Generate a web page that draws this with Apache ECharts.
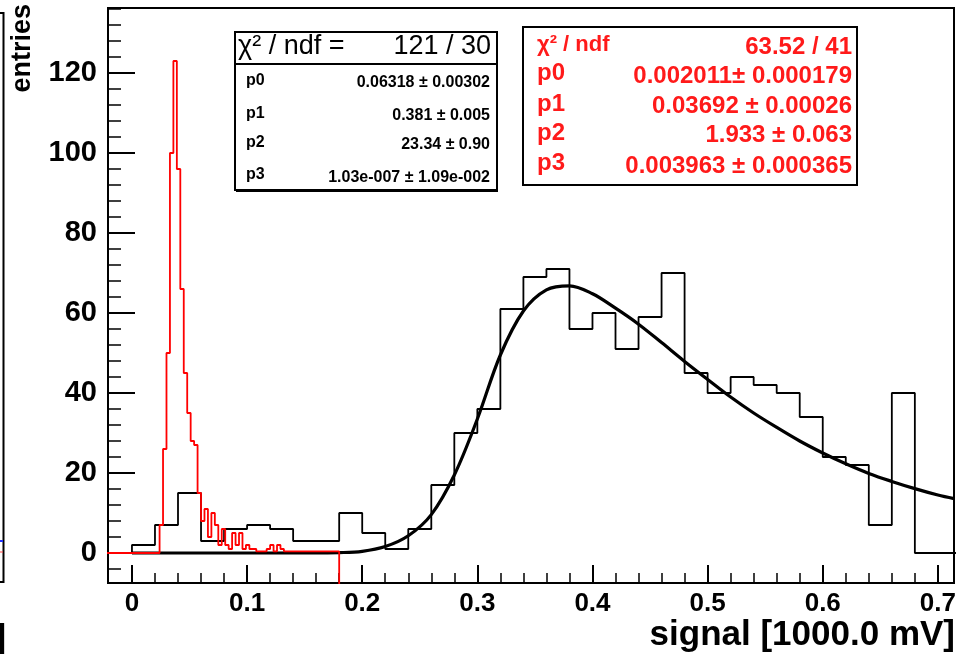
<!DOCTYPE html>
<html><head><meta charset="utf-8">
<script src="https://cdn.jsdelivr.net/npm/echarts@6/dist/echarts.min.js"></script>
<style>html,body{margin:0;padding:0;background:#fff}#c{width:961px;height:656px}</style>
</head><body><div id="c"></div>
<script>
// ---- data ----
const blackBinStart = 0;
const blackBinWidth = 0.02;
const blackCounts = [2, 7, 15, 3, 6, 7, 6, 3, 3, 10, 5, 1, 6, 17, 30, 36, 61, 69, 71, 56,
  60, 51, 59, 70, 45, 40, 44, 42, 40, 34, 24, 22, 7, 40, 0, 0];

const redBinStart = 0;
const redBinWidth = 0.003;
const redCounts = [0, 0, 0, 0, 0, 0, 0, 0, 7, 26, 50, 100, 123, 96, 66, 45, 35, 28, 27, 15,
  8, 11, 4, 10, 7, 2, 6, 2, 1, 5, 2, 5, 1, 2, 1, 1, 0.4, 0.4, 0.4, 1, 2, 0.4, 2, 1,
  0.4, 0.4, 0.4, 0.4, 0.4, 0.4, 0.4, 0.4, 0.4, 0.4, 0.4, 0.4, 0.4, 0.4, 0.4, 0.4];

const fitX = [0, 0.10, 0.15, 0.18, 0.20, 0.22, 0.24, 0.26, 0.28, 0.30, 0.32, 0.34, 0.36, 0.38,
  0.40, 0.42, 0.44, 0.46, 0.48, 0.50, 0.52, 0.54, 0.56, 0.58, 0.60, 0.62, 0.64, 0.66, 0.68, 0.70, 0.714];
const fitY = [0, 0, 0.02, 0.1, 0.4, 1.6, 4.3, 9.6, 19.5, 33.5, 49.5, 60.5, 65.8, 66.8,
  64.8, 61.2, 57.2, 52.6, 47.9, 43.4, 39.0, 35.0, 31.4, 28.0, 25.0, 22.3, 19.9, 17.9, 16.1, 14.5, 13.6];

const xTickLabels = [0, 0.1, 0.2, 0.3, 0.4, 0.5, 0.6, 0.7];
const yTickLabels = [0, 20, 40, 60, 80, 100, 120];

const fit1Header = ['\u03c7\u00b2 / ndf =', '121 / 30'];
const fit1Names = ['p0', 'p1', 'p2', 'p3'];
const fit1Values = ['0.06318 \u00b1 0.00302', '0.381 \u00b1 0.005', '23.34 \u00b1 0.90', '1.03e-007 \u00b1 1.09e-002'];
const fit2Names = ['\u03c7\u00b2 / ndf', 'p0', 'p1', 'p2', 'p3'];
const fit2Values = ['63.52 / 41', '0.002011\u00b1 0.000179', '0.03692 \u00b1 0.00026', '1.933 \u00b1 0.063', '0.003963 \u00b1 0.000365'];

// ---- axis ranges ----
const X_MIN = -0.0208, X_MAX = 0.714, Y_MIN = -7.5, Y_MAX = 136.25;

function range(a, b, step) { const r = []; for (let v = a; v <= b + 1e-9; v += step) r.push(Math.round(v * 1000) / 1000); return r; }
const xMinor = range(0, 0.70, 0.02);
const yMinor = range(-4, 136, 4);

function steps(start, width, counts) {
  const pts = [];
  counts.forEach((c, i) => {
    const x0 = +(start + i * width).toFixed(4), x1 = +(start + (i + 1) * width).toFixed(4);
    pts.push([x0, c], [x1, c]);
  });
  return pts;
}
const blackPts = [[blackBinStart, 0]].concat(steps(blackBinStart, blackBinWidth, blackCounts));
const redEnd = redBinStart + redCounts.length * redBinWidth;
const redPts = [[X_MIN - 0.01, 0], [redBinStart, 0]].concat(steps(redBinStart, redBinWidth, redCounts), [[redEnd, -30]]);
const fitPts = fitX.map((x, i) => [x, fitY[i]]);

const FONT = '"Liberation Sans", Arial, sans-serif';
const RED = '#ff1a1a';

const chart = echarts.init(document.getElementById('c'), null, { renderer: 'canvas' });

const gfx = [];
// left neighbour pad remnants
gfx.push({ type: 'polyline', shape: { points: [[0, 13], [3.5, 13], [3.5, 582], [0, 582]] }, style: { stroke: '#000', lineWidth: 2, fill: null } });
gfx.push({ type: 'line', shape: { x1: 0, y1: 541, x2: 3, y2: 541 }, style: { stroke: '#2233ff', lineWidth: 2 } });
gfx.push({ type: 'line', shape: { x1: 0, y1: 552, x2: 3, y2: 552 }, style: { stroke: '#ff4444', lineWidth: 1 } });
gfx.push({ type: 'text', style: { text: ']', x: 6, y: 638, align: 'right', verticalAlign: 'middle', font: 'bold 34px ' + FONT, fill: '#000' } });
// axis titles
gfx.push({ type: 'text', rotation: Math.PI / 2, x: 23, y: 4, style: { text: 'entries', x: 0, y: 0, align: 'right', verticalAlign: 'middle', font: 'bold 27px ' + FONT, fill: '#000' } });
gfx.push({ type: 'text', style: { text: 'signal [1000.0 mV]', x: 955, y: 635, align: 'right', verticalAlign: 'middle', font: 'bold 35px ' + FONT, fill: '#000' } });
// stat box 1
gfx.push({ type: 'rect', z: 100, shape: { x: 235, y: 32, width: 262, height: 158 }, style: { fill: '#fff', stroke: '#000', lineWidth: 2 } });
gfx.push({ type: 'line', z: 101, shape: { x1: 236, y1: 191, x2: 498, y2: 191 }, style: { stroke: '#000', lineWidth: 2 } });
gfx.push({ type: 'line', z: 101, shape: { x1: 235, y1: 64, x2: 497, y2: 64 }, style: { stroke: '#000', lineWidth: 2 } });
gfx.push({ type: 'text', z: 102, style: { text: fit1Header[0], x: 238, y: 47, align: 'left', verticalAlign: 'middle', font: '27px ' + FONT, fill: '#000' } });
gfx.push({ type: 'text', z: 102, style: { text: fit1Header[1], x: 491, y: 47, align: 'right', verticalAlign: 'middle', font: '27px ' + FONT, fill: '#000' } });
const r1y = [81, 114, 143, 175];
const v1y = [83, 116, 145, 178];
fit1Names.forEach((n, i) => {
  gfx.push({ type: 'text', z: 102, style: { text: n, x: 246, y: r1y[i], align: 'left', verticalAlign: 'middle', font: 'bold 16px ' + FONT, fill: '#000' } });
  gfx.push({ type: 'text', z: 102, style: { text: fit1Values[i], x: 490, y: v1y[i], align: 'right', verticalAlign: 'middle', font: 'bold 16px ' + FONT, fill: '#000' } });
});
// stat box 2
gfx.push({ type: 'rect', z: 100, shape: { x: 523, y: 27, width: 334, height: 158 }, style: { fill: '#fff', stroke: '#000', lineWidth: 2 } });
const r2y = [45, 73, 104, 133, 163];
const v2y = [47, 76, 106, 135, 166];
fit2Names.forEach((n, i) => {
  gfx.push({ type: 'text', z: 102, style: { text: n, x: 537, y: r2y[i], align: 'left', verticalAlign: 'middle', font: 'bold ' + (i === 0 ? 22 : 24) + 'px ' + FONT, fill: RED } });
  gfx.push({ type: 'text', z: 102, style: { text: fit2Values[i], x: 852, y: v2y[i], align: 'right', verticalAlign: 'middle', font: 'bold 24px ' + FONT, fill: RED } });
});

const option = {
  animation: false,
  backgroundColor: '#fff',
  grid: { left: 108, top: 8, right: 7, bottom: 73, show: true, borderColor: '#000', borderWidth: 2, backgroundColor: 'transparent' },
  xAxis: [
    {
      type: 'value', min: X_MIN, max: X_MAX, position: 'bottom',
      axisLine: { show: true, onZero: false, lineStyle: { color: '#000', width: 2 } },
      splitLine: { show: false },
      axisTick: { show: true, inside: true, length: 18, customValues: xTickLabels, lineStyle: { color: '#000', width: 2 } },
      axisLabel: { customValues: xTickLabels, margin: 8, color: '#000', fontSize: 26, fontWeight: 'bold', fontFamily: FONT, formatter: v => String(v) }
    },
    {
      type: 'value', min: X_MIN, max: X_MAX, position: 'bottom',
      axisLine: { show: false, onZero: false }, splitLine: { show: false }, axisLabel: { show: false },
      axisTick: { show: true, inside: true, length: 10, customValues: xMinor, lineStyle: { color: '#000', width: 1.5 } }
    }
  ],
  yAxis: [
    {
      type: 'value', min: Y_MIN, max: Y_MAX, position: 'left',
      axisLine: { show: true, onZero: false, lineStyle: { color: '#000', width: 2 } },
      splitLine: { show: false },
      axisTick: { show: true, inside: true, length: 27, customValues: yTickLabels, lineStyle: { color: '#000', width: 2 } },
      axisLabel: { customValues: yTickLabels, margin: 11, color: '#000', fontSize: 29, fontWeight: 'bold', fontFamily: FONT }
    },
    {
      type: 'value', min: Y_MIN, max: Y_MAX, position: 'left',
      axisLine: { show: false, onZero: false }, splitLine: { show: false }, axisLabel: { show: false },
      axisTick: { show: true, inside: true, length: 13, customValues: yMinor, lineStyle: { color: '#000', width: 1.5 } }
    }
  ],
  series: [
    { name: 'signal', type: 'line', data: blackPts, showSymbol: false, symbol: 'none', clip: true, z: 3,
      lineStyle: { color: '#000', width: 1.8 }, silent: true },
    { name: 'fit', type: 'line', data: fitPts, smooth: 0.35, showSymbol: false, symbol: 'none', clip: true, z: 4,
      lineStyle: { color: '#000', width: 3.2 }, silent: true },
    { name: 'pedestal', type: 'line', data: redPts, showSymbol: false, symbol: 'none', clip: true, z: 5,
      lineStyle: { color: '#ff0000', width: 1.8 }, silent: true }
  ],
  graphic: gfx
};
chart.setOption(option);
</script>
</body></html>
